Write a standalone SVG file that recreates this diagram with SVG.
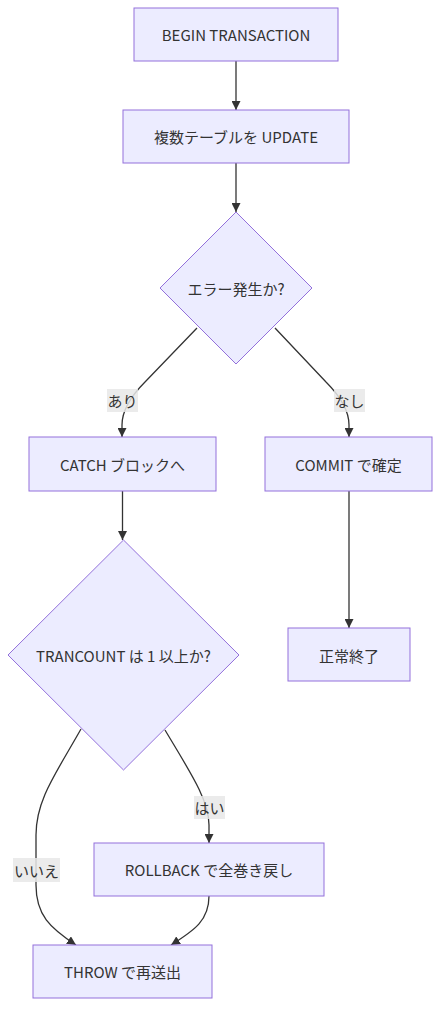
<svg xmlns="http://www.w3.org/2000/svg" width="448" height="1025" viewBox="0 0 448 1025">
<style>
.node rect,.node polygon{fill:#ECECFF;stroke:#9370DB;stroke-width:1}
text{font-family:"Noto Sans CJK JP","Noto Sans",sans-serif;font-size:15px;fill:#333;text-anchor:middle;dominant-baseline:central}
.edge{fill:none;stroke:#333;stroke-width:1.3}
.lbl rect{fill:#e8e8e8;opacity:0.85}
</style>
<defs>
<marker id="arr" viewBox="0 0 10 10" refX="10" refY="5" markerWidth="9" markerHeight="9" markerUnits="userSpaceOnUse" orient="auto">
<path d="M0,0 L10,5 L0,10 z" fill="#333"/>
</marker>
</defs>
<g id="connectors">
<path class="edge" d="M236,61 L236,110" marker-end="url(#arr)"/>
<path class="edge" d="M236,163 L236,212" marker-end="url(#arr)"/>
<path class="edge" d="M197,328 L145,382 Q122,405 122,425 L122,437" marker-end="url(#arr)"/>
<path class="edge" d="M275,328 L326,382 Q349,405 349,425 L349,437" marker-end="url(#arr)"/>
<path class="edge" d="M122.5,491 L122.5,540" marker-end="url(#arr)"/>
<path class="edge" d="M349,491 L349,628" marker-end="url(#arr)"/>
<path class="edge" d="M165,730 C190,772 209,800 209,825 L209,843" marker-end="url(#arr)"/>
<path class="edge" d="M81,729 C55,775 36,800 36,835 L36,885 C36,915 50,928 76,945" marker-end="url(#arr)"/>
<path class="edge" d="M209,896 C209,920 195,930 171,945" marker-end="url(#arr)"/>
<g class="lbl"><rect x="107" y="389" width="31" height="23"/><text x="122.5" y="400.5">あり</text></g>
<g class="lbl"><rect x="334" y="389" width="31" height="23"/><text x="349.5" y="400.5">なし</text></g>
<g class="lbl"><rect x="194" y="796" width="31" height="23"/><text x="209.5" y="807.5">はい</text></g>
<g class="lbl"><rect x="13" y="858" width="47" height="24"/><text x="36.5" y="870">いいえ</text></g>
</g>
<g id="n1" class="node"><rect x="134" y="8" width="204" height="53"/><text x="236" y="34.5">BEGIN TRANSACTION</text></g>
<g id="n2" class="node"><rect x="123" y="110" width="226" height="53"/><text x="236" y="136.5">複数テーブルを UPDATE</text></g>
<g id="n3" class="node"><polygon points="236,212 312,288 236,364 160,288"/><text x="236" y="288">エラー発生か?</text></g>
<g id="n4" class="node"><rect x="29" y="437" width="187" height="54"/><text x="122.5" y="464">CATCH ブロックへ</text></g>
<g id="n5" class="node"><rect x="265" y="437" width="167" height="54"/><text x="348.5" y="464">COMMIT で確定</text></g>
<g id="n6" class="node"><rect x="288" y="628" width="122" height="53"/><text x="349" y="655">正常終了</text></g>
<g id="n7" class="node"><polygon points="123.5,540 239,655 123.5,770 8,655"/><text x="123.5" y="655">TRANCOUNT は 1 以上か?</text></g>
<g id="n8" class="node"><rect x="94" y="843" width="230" height="53"/><text x="209" y="869.5">ROLLBACK で全巻き戻し</text></g>
<g id="n9" class="node"><rect x="33" y="945" width="179" height="53"/><text x="122.5" y="971.5">THROW で再送出</text></g>
</svg>
